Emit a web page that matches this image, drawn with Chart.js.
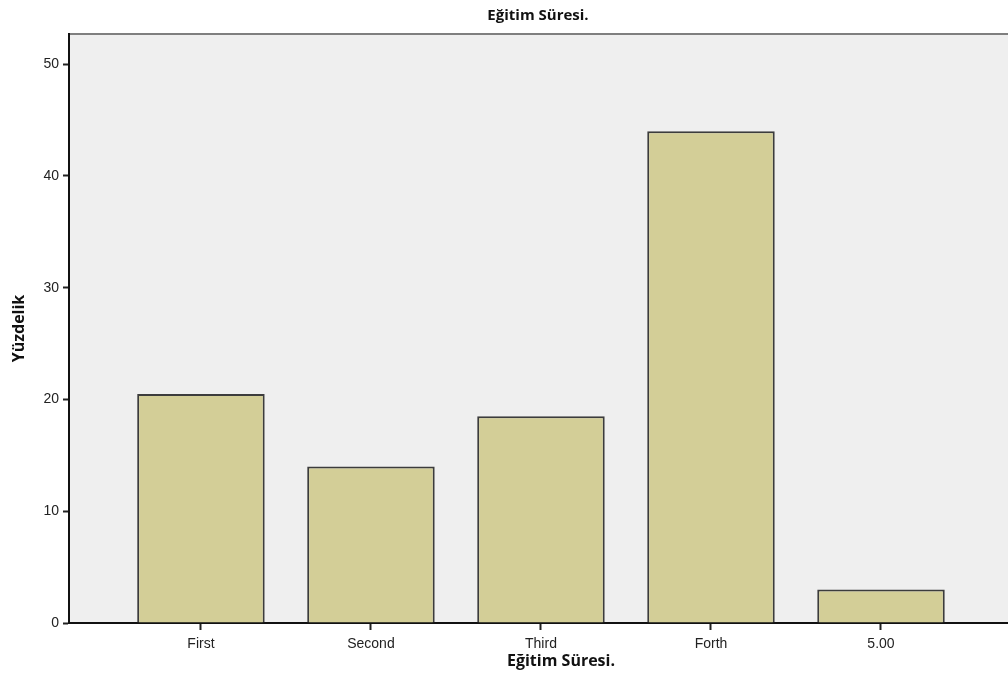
<!DOCTYPE html>
<html lang="tr">
<head>
<meta charset="UTF-8">
<title>Eğitim Süresi.</title>
<script src="https://cdn.jsdelivr.net/npm/chart.js@4.4.1/dist/chart.umd.min.js"></script>
<style>
  html, body { margin: 0; padding: 0; background: #fff; }
  #wrap { width: 1008px; height: 675px; }
</style>
</head>
<body>
<div id="wrap"><canvas id="bars" width="1008" height="675"></canvas></div>
<script>
const categories = ['First', 'Second', 'Third', 'Forth', '5.00'];
const percents = [20.5, 14.0, 18.5, 44.0, 3.0];
const yTicks = [0, 10, 20, 30, 40, 50];
const chartTitle = 'Eğitim Süresi.';
const yTitle = 'Yüzdelik';

const tickFont = { family: '"Liberation Sans", Arial, sans-serif', size: 14 };
const titleFont = '"Open Sans", "Noto Sans", sans-serif';

// grey plot background + top border, and the two titles
const frame = {
    id: 'frame',
    beforeDraw(chart) {
        const {ctx, chartArea: a} = chart;
        ctx.save();
        ctx.fillStyle = '#efefef';
        ctx.fillRect(a.left, a.top, a.right - a.left, a.bottom - a.top);
        ctx.strokeStyle = '#7f7f7f';
        ctx.lineWidth = 2;
        ctx.beginPath();
        ctx.moveTo(a.left, a.top);
        ctx.lineTo(a.right, a.top);
        ctx.stroke();
        ctx.restore();
    },
    afterDraw(chart) {
        const {ctx} = chart;
        ctx.save();
        ctx.fillStyle = '#111';
        ctx.font = `bold 15px ${titleFont}`;
        ctx.textAlign = 'center';
        ctx.textBaseline = 'middle';
        ctx.fillText(chartTitle, 538, 16);
        ctx.font = `bold 16px ${titleFont}`;
        ctx.fillText(chartTitle, 561, 661);
        ctx.restore();
    }
};

new Chart(document.getElementById('bars'), {
    type: 'bar',
    data: {
        datasets: [{
            data: categories.map((c, i) => ({x: i, y: percents[i]})),
            backgroundColor: '#d3ce97',
            borderColor: '#3c3c3c',
            borderWidth: 2,
            barPercentage: 0.75,
            categoryPercentage: 1.0
        }]
    },
    options: {
        responsive: false,
        animation: false,
        layout: { padding: { top: 34, right: 0, left: 0, bottom: 0 } },
        plugins: { legend: { display: false }, tooltip: { enabled: false } },
        scales: {
            x: {
                type: 'linear',
                offset: false,
                min: -0.776,
                max: 4.747,
                afterBuildTicks: s => { s.ticks = categories.map((c, i) => ({value: i})); },
                afterFit: s => { s.height = 52; },
                ticks: {
                    autoSkip: false,
                    maxRotation: 0,
                    color: '#222',
                    font: tickFont,
                    padding: 6,
                    callback: v => categories[v]
                },
                grid: { offset: false, drawOnChartArea: false, tickLength: 7, color: '#222', tickWidth: 2 },
                border: { color: '#111', width: 2 }
            },
            y: {
                min: 0,
                max: 52.7,
                afterBuildTicks: s => { s.ticks = yTicks.map(v => ({value: v})); },
                afterFit: s => { s.width = 69; },
                ticks: { color: '#222', font: tickFont, padding: 4 },
                grid: { drawOnChartArea: false, tickLength: 6, color: '#222', tickWidth: 2 },
                border: { color: '#111', width: 2 },
                title: {
                    display: true,
                    text: yTitle,
                    color: '#111',
                    font: { family: titleFont, size: 16, weight: 'bold' },
                    padding: { top: 10, bottom: 0 }
                }
            }
        }
    },
    plugins: [frame]
});
</script>
</body>
</html>
